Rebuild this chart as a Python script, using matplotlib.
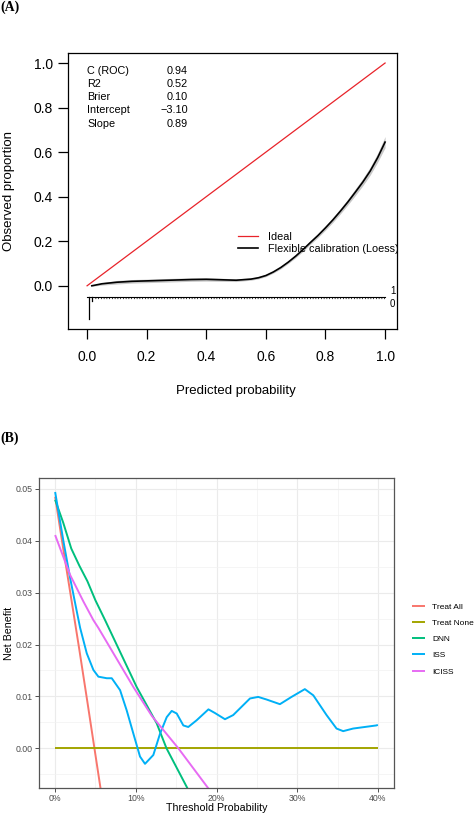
import numpy as np
import matplotlib
matplotlib.use("Agg")
import matplotlib.pyplot as plt

plt.rcParams["font.family"] = ["Liberation Sans", "DejaVu Sans"]

# ---- panel A: calibration plot data ----
cal_x = [0.016, 0.05, 0.1, 0.15, 0.2, 0.25, 0.3, 0.35, 0.4, 0.45, 0.5, 0.55,
         0.575, 0.6, 0.625, 0.65, 0.675, 0.7, 0.725, 0.75, 0.775, 0.8, 0.825,
         0.85, 0.875, 0.9, 0.925, 0.95, 0.975, 1.0]
cal_y = [0.0, 0.009, 0.016, 0.020, 0.022, 0.024, 0.026, 0.028, 0.029, 0.027,
         0.025, 0.030, 0.036, 0.046, 0.062, 0.082, 0.106, 0.133, 0.163, 0.195,
         0.226, 0.26, 0.296, 0.335, 0.376, 0.42, 0.465, 0.515, 0.575, 0.645]
cal_lo = [-0.002, 0.003, 0.008, 0.012, 0.014, 0.016, 0.018, 0.020, 0.021, 0.020,
          0.019, 0.025, 0.031, 0.041, 0.057, 0.076, 0.100, 0.126, 0.155, 0.187,
          0.217, 0.25, 0.285, 0.323, 0.363, 0.405, 0.449, 0.497, 0.555, 0.620]
cal_hi = [0.002, 0.014, 0.024, 0.028, 0.030, 0.032, 0.034, 0.036, 0.037, 0.034,
          0.031, 0.035, 0.041, 0.051, 0.067, 0.088, 0.112, 0.140, 0.171, 0.203,
          0.235, 0.27, 0.307, 0.347, 0.389, 0.435, 0.481, 0.533, 0.595, 0.670]
stat_names = ["C (ROC)", "R2", "Brier", "Intercept", "Slope"]
stat_vals = ["0.94", "0.52", "0.10", "\u22123.10", "0.89"]
rug0_x = [0.008, 0.018]
rug0_h = [0.10, 0.02]

# ---- panel B: decision curve data ----
t_all = [0, 0.01, 0.02, 0.03, 0.04, 0.0487, 0.058]
nb_all = [0.0485, 0.0385, 0.0288, 0.019, 0.0089, 0.0, -0.0095]
t_none = [0, 0.4]
nb_none = [0, 0]
t_dnn = [0, 0.01, 0.02, 0.03, 0.04, 0.05, 0.0619, 0.1011, 0.1259, 0.138, 0.17]
nb_dnn = [0.0479, 0.0435, 0.0385, 0.0352, 0.0322, 0.0285, 0.0247, 0.0118, 0.0048, 0.0, -0.0095]
t_iss = [0, 0.0103, 0.0186, 0.0268, 0.031, 0.0392, 0.0474, 0.0536, 0.064, 0.0702,
         0.0805, 0.0887, 0.097, 0.1052, 0.1114, 0.1217, 0.130, 0.1383, 0.1445,
         0.1507, 0.1589, 0.165, 0.1754, 0.19, 0.198, 0.2105, 0.2207, 0.2415,
         0.2517, 0.262, 0.2786, 0.293, 0.3095, 0.32, 0.3364, 0.3488, 0.357,
         0.3693, 0.398, 0.4]
nb_iss = [0.0494, 0.0399, 0.0328, 0.0264, 0.0232, 0.0183, 0.0151, 0.0138, 0.0135,
          0.0135, 0.0112, 0.0073, 0.0028, -0.0016, -0.003, -0.0013, 0.0028, 0.006,
          0.0072, 0.0067, 0.0044, 0.0041, 0.0054, 0.0075, 0.0068, 0.0056, 0.0064,
          0.0096, 0.0099, 0.0094, 0.0085, 0.0099, 0.0114, 0.0102, 0.0064, 0.0038,
          0.0033, 0.0038, 0.0044, 0.0045]
t_iciss = [0, 0.0186, 0.035, 0.0474, 0.0536, 0.097, 0.12, 0.1527, 0.195]
nb_iciss = [0.0411, 0.0334, 0.0283, 0.0247, 0.0232, 0.0118, 0.0062, 0.0, -0.0088]
labels_b = ["Treat All", "Treat None", "DNN", "ISS", "ICISS"]
colors_b = ["#F8766D", "#A3A500", "#00BF7D", "#00B0F6", "#E76BF3"]

W, H = 474, 814
fig = plt.figure(figsize=(W / 100, H / 100), dpi=100)


def fx(px):
    return px / W


def fy(py):
    return 1 - py / H


# ================= panel A =================
axA = fig.add_axes([fx(68), fy(329), fx(397) - fx(68), fy(53) - fy(329)])
axA.set_xlim(-0.064, 1.040)
axA.set_ylim(-0.194, 1.045)
axA.fill_between(cal_x, cal_lo, cal_hi, color="#c8c8c8", lw=0)
axA.plot([0, 1], [0, 1], color="#e8232a", lw=0.9, label="Ideal")
axA.plot(cal_x, cal_y, color="black", lw=1.2, label="Flexible calibration (Loess)")

# rug of outcomes
axA.plot([0.0, 1.0], [-0.05, -0.05], color="black", lw=0.8)
axA.plot([0.025, 1.0], [-0.056, -0.056], color="black", lw=0.9, ls=(0, (0.6, 1.6)))
for x, h in zip(rug0_x, rug0_h):
    axA.plot([x, x], [-0.05, -0.05 - h], color="black", lw=0.9)
axA.text(1.025, -0.022, "1", fontsize=7, ha="center", va="center", clip_on=False)
axA.text(1.025, -0.08, "0", fontsize=7, ha="center", va="center", clip_on=False)

for i, (n, v) in enumerate(zip(stat_names, stat_vals)):
    yy = 0.964 - i * 0.059
    axA.text(0.0, yy, n, fontsize=7.8, ha="left", va="center")
    axA.text(0.339, yy, v, fontsize=7.8, ha="right", va="center")

axA.legend(loc="upper left", bbox_to_anchor=(fx(238), fy(232)),
           bbox_transform=fig.transFigure, frameon=False, fontsize=7.8,
           handlelength=1.85, handletextpad=0.9, labelspacing=0.2,
           borderpad=0, borderaxespad=0)

axA.set_xticks([0, 0.2, 0.4, 0.6, 0.8, 1.0])
axA.set_xticklabels(["0.0", "0.2", "0.4", "0.6", "0.8", "1.0"])
axA.set_yticks([0, 0.2, 0.4, 0.6, 0.8, 1.0])
axA.set_yticklabels(["0.0", "0.2", "0.4", "0.6", "0.8", "1.0"])
axA.tick_params(axis="both", length=7, width=0.9, labelsize=10)
axA.tick_params(axis="x", pad=8)
axA.tick_params(axis="y", pad=4)
for s in axA.spines.values():
    s.set_linewidth(0.9)
fig.text(fx(236), fy(391), "Predicted probability", fontsize=9.5, ha="center", va="center")
fig.text(fx(9), fy(191), "Observed proportion", fontsize=9.5, ha="center", va="center",
         rotation=90)
fig.text(0, fy(7), "(A)", fontsize=10, fontweight="bold", family="Liberation Serif",
         ha="left", va="center")

# ================= panel B =================
axB = fig.add_axes([fx(39), fy(788), fx(394) - fx(39), fy(478) - fy(788)])
axB.set_xlim(-0.02, 0.42)
axB.set_ylim(-0.00766, 0.0521)
axB.set_axisbelow(True)
axB.set_xticks([0, 0.1, 0.2, 0.3, 0.4])
axB.set_xticklabels(["0%", "10%", "20%", "30%", "40%"])
axB.set_xticks([0.05, 0.15, 0.25, 0.35], minor=True)
axB.set_yticks([0, 0.01, 0.02, 0.03, 0.04, 0.05])
axB.set_yticklabels(["0.00", "0.01", "0.02", "0.03", "0.04", "0.05"])
axB.set_yticks([-0.005, 0.005, 0.015, 0.025, 0.035, 0.045], minor=True)
axB.grid(which="major", color="#ebebeb", lw=0.8)
axB.grid(which="minor", color="#f2f2f2", lw=0.5)
axB.tick_params(which="minor", length=0)
axB.tick_params(which="major", length=3, width=0.6, color="#333333",
                labelsize=6.3, labelcolor="#4d4d4d", pad=1.5)

series = [(t_all, nb_all), (t_none, nb_none), (t_dnn, nb_dnn), (t_iss, nb_iss),
          (t_iciss, nb_iciss)]
for (tx, ny), lab, col in zip(series, labels_b, colors_b):
    axB.plot(tx, ny, color=col, lw=1.4, label=lab, solid_capstyle="butt")

for s in axB.spines.values():
    s.set_color("#555555")
    s.set_linewidth(0.9)

fig.legend(loc="upper left", bbox_to_anchor=(fx(412), fy(603)), frameon=False,
           handles=axB.get_lines(), fontsize=6, handlelength=1.6,
           handletextpad=0.85, labelspacing=1.0, borderpad=0, borderaxespad=0)

fig.text(fx(217), fy(808), "Threshold Probability", fontsize=7.7, ha="center", va="center")
fig.text(fx(9), fy(633), "Net Benefit", fontsize=7.7, ha="center", va="center",
         rotation=90)
fig.text(0, fy(438), "(B)", fontsize=10, fontweight="bold", family="Liberation Serif",
         ha="left", va="center")

fig.savefig("out.png", dpi=100)
